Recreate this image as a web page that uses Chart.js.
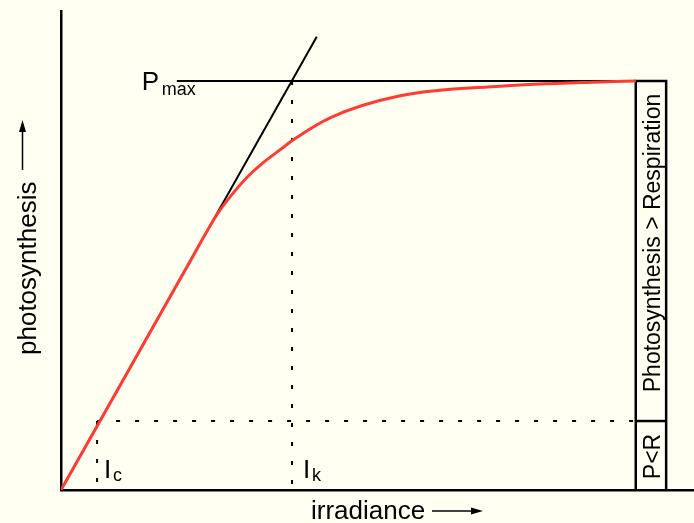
<!DOCTYPE html>
<html lang="en">
<head>
    <meta charset="UTF-8">
    <title>P-I curve</title>
    <script src="https://cdn.jsdelivr.net/npm/chart.js"></script>
</head>

<style>
    html, body {
        margin: 0;
        padding: 0;
        background: #fffff2;
    }
    .grafico_sty {
        width: 694px;
        height: 523px;
    }
</style>

<body>

    <div class="grafico_sty">
        <canvas id="grafico_pi"></canvas>
    </div>

    <script>
        // response curve (irradiance -> photosynthesis), arbitrary units 0..100
        const irradiance = [0, 10, 20, 24.6, 26.7, 29.4, 31.9, 34.6, 36.7, 42.5, 53.6, 69.4, 85.2, 90.8];
        const photosynthesis = [0, 23.4, 46.8, 57.4, 61.2, 65.3, 68.3, 71.0, 73.1, 77.7, 82.3, 84.3, 85.2, 85.4];

        // key values
        const pMax = 85.4;      // light saturated rate
        const ik = 36.5;        // saturation onset
        const ic = 5.7;         // compensation irradiance
        const pComp = 14.4;     // level where P = R
        const slopeEnd = [40.4, 94.6];   // end of the initial slope line
        const pMaxStart = 18.3;
        const boxX = [90.8, 95.6];

        const pts = (xs, ys) => xs.map((x, i) => ({ x: x, y: ys[i] }));

        const seg = (data, extra) => Object.assign({
            data: data,
            showLine: true,
            borderColor: '#000',
            borderWidth: 2,
            pointRadius: 0,
            fill: false
        }, extra || {});

        const dotted = { borderDash: [4, 15], borderWidth: 2 };

        // labels, arrows and box captions
        const textos = {
            id: 'textos',
            afterDraw(chart) {
                const c = chart.ctx;
                const x = chart.scales.x;
                const y = chart.scales.y;
                c.save();
                c.fillStyle = '#000';
                c.strokeStyle = '#000';
                c.textBaseline = 'alphabetic';

                // P max
                const pxStart = x.getPixelForValue(pMaxStart);
                const pyMax = y.getPixelForValue(pMax);
                c.font = '26px "Liberation Sans", Arial, sans-serif';
                c.textAlign = 'left';
                c.fillText('P', pxStart - 35, pyMax + 9);
                c.font = '18px "Liberation Sans", Arial, sans-serif';
                c.fillText('max', pxStart - 15, pyMax + 14);

                // I c and I k
                const base = y.getPixelForValue(0);
                [[ic, 'c', 7], [ik, 'k', 11]].forEach(([v, sub, off]) => {
                    const px = x.getPixelForValue(v);
                    c.font = '26px "Liberation Sans", Arial, sans-serif';
                    c.fillText('I', px + off, base - 12);
                    c.font = '18px "Liberation Sans", Arial, sans-serif';
                    c.fillText(sub, px + off + 9, base - 9);
                });

                // captions inside the box
                const bx = x.getPixelForValue(boxX[1]) - 6;
                const rot = (txt, cy) => {
                    c.save();
                    c.translate(bx, cy);
                    c.rotate(-Math.PI / 2);
                    c.textAlign = 'center';
                    c.font = '23px "Liberation Sans", Arial, sans-serif';
                    c.fillText(txt, 0, 0);
                    c.restore();
                };
                rot('Photosynthesis > Respiration', (y.getPixelForValue(pMax) + y.getPixelForValue(pComp)) / 2 - 8);
                rot('P<R', (y.getPixelForValue(pComp) + base) / 2 + 1);

                // axis titles
                c.font = '26px "Liberation Sans", Arial, sans-serif';
                c.save();
                c.translate(36, 355);
                c.rotate(-Math.PI / 2);
                c.textAlign = 'left';
                c.fillText('photosynthesis', 0, 0);
                c.restore();

                c.textAlign = 'left';
                c.fillText('irradiance', 311, 519);

                const arrow = (x0, y0, x1, y1) => {
                    const ang = Math.atan2(y1 - y0, x1 - x0);
                    c.lineWidth = 1.5;
                    c.beginPath();
                    c.moveTo(x0, y0);
                    c.lineTo(x1 - 10 * Math.cos(ang), y1 - 10 * Math.sin(ang));
                    c.stroke();
                    c.beginPath();
                    c.moveTo(x1, y1);
                    c.lineTo(x1 - 12 * Math.cos(ang) + 3.5 * Math.sin(ang), y1 - 12 * Math.sin(ang) - 3.5 * Math.cos(ang));
                    c.lineTo(x1 - 12 * Math.cos(ang) - 3.5 * Math.sin(ang), y1 - 12 * Math.sin(ang) + 3.5 * Math.cos(ang));
                    c.closePath();
                    c.fill();
                };
                arrow(22.5, 170, 22.5, 120);
                arrow(432, 511, 483, 511);

                c.restore();
            }
        };

        const ctx = document.getElementById('grafico_pi');

        const grafico = new Chart(ctx, {
            type: 'scatter',
            data: {
                datasets: [
                    seg(pts(irradiance, photosynthesis), { borderColor: '#ff3b33', borderWidth: 3, cubicInterpolationMode: 'monotone' }),
                    seg([{ x: 0, y: 0 }, { x: slopeEnd[0], y: slopeEnd[1] }]),
                    seg([{ x: pMaxStart, y: pMax }, { x: boxX[0], y: pMax }]),
                    seg([{ x: ik, y: pMax }, { x: ik, y: 0 }], dotted),
                    seg([{ x: ic, y: pComp }, { x: ic, y: 0 }], dotted),
                    seg([{ x: ic, y: pComp }, { x: boxX[0], y: pComp }], dotted),
                    seg([{ x: boxX[0], y: 0 }, { x: boxX[0], y: pMax }, { x: boxX[1], y: pMax }, { x: boxX[1], y: 0 }], { borderWidth: 2.5 }),
                    seg([{ x: boxX[0], y: pComp }, { x: boxX[1], y: pComp }], { borderWidth: 2.5 })
                ]
            },
            options: {
                responsive: true,
                maintainAspectRatio: false,
                animation: false,
                layout: {
                    padding: { left: 61, top: 11, right: 0, bottom: 33 }
                },
                plugins: {
                    legend: { display: false },
                    tooltip: { enabled: false }
                },
                scales: {
                    x: {
                        type: 'linear',
                        min: 0,
                        max: 100,
                        grid: { display: false, drawTicks: false },
                        ticks: { display: false },
                        border: { display: true, color: '#000', width: 2.5 }
                    },
                    y: {
                        type: 'linear',
                        min: 0,
                        max: 100,
                        grid: { display: false, drawTicks: false },
                        ticks: { display: false },
                        border: { display: true, color: '#000', width: 2.5 }
                    }
                }
            },
            plugins: [textos]
        });
    </script>

</body>
</html>
